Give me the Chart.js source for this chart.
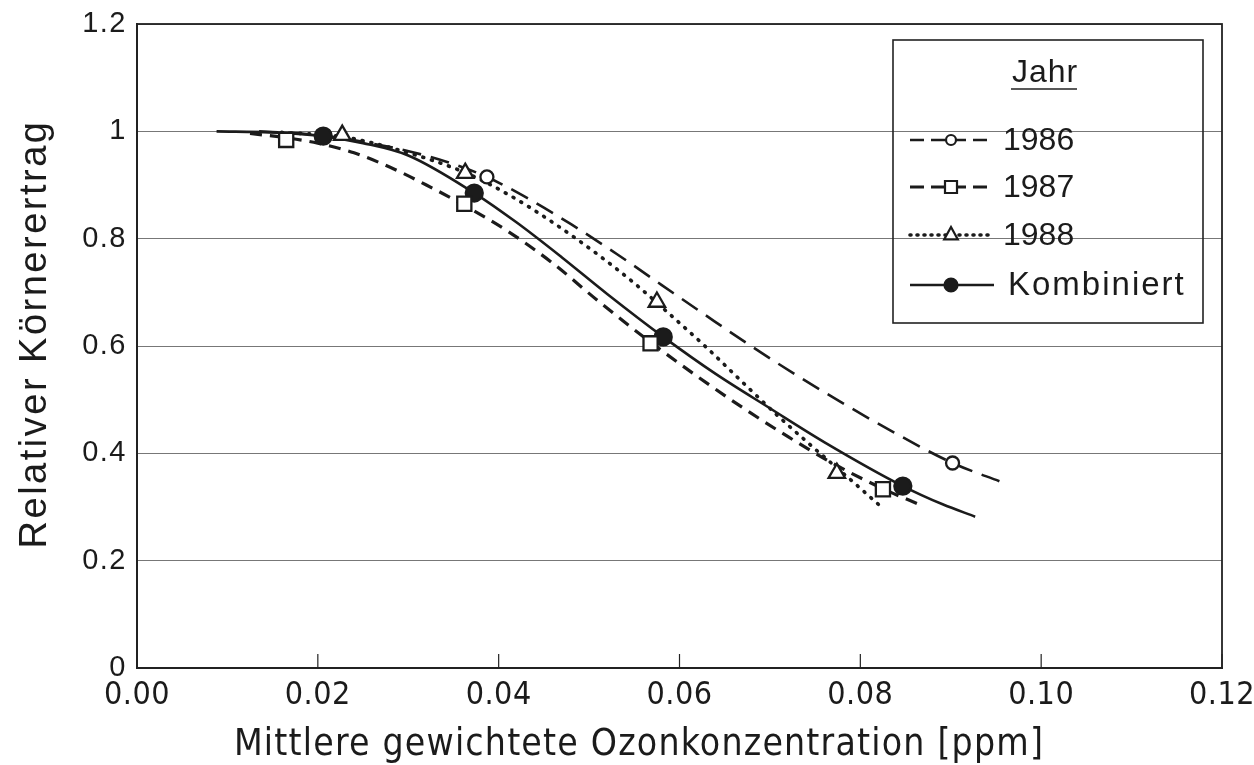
<!DOCTYPE html>
<html><head><meta charset="utf-8">
<script src="https://cdn.jsdelivr.net/npm/chart.js@4.4.1/dist/chart.umd.min.js"></script>
<style>html,body{margin:0;padding:0;background:#fff;}#wrap{width:1254px;height:765px;}</style>
</head><body><div id="wrap"><canvas id="c" width="1254" height="765"></canvas></div>
<script>
// ---- tick labels & texts ----
const xTickLabels = ['0.00','0.02','0.04','0.06','0.08','0.10','0.12'];
const yTickLabels = ['0','0.2','0.4','0.6','0.8','1','1.2'];
const xTitle = 'Mittlere gewichtete Ozonkonzentration [ppm]';
const yTitle = 'Relativer Körnerertrag';
const legendTitle = 'Jahr';
const seriesNames = ['1986','1987','1988','Kombiniert'];

// ---- fitted curves ----
const curve1986X = [0.0135,0.0200,0.0261,0.0305,0.0343,0.0387,0.0427,0.0480,0.0531,0.0580,0.0630,0.0680,0.0730,0.0780,0.0836,0.0902,0.0957];
const curve1986Y = [1.000,0.993,0.977,0.961,0.943,0.915,0.880,0.827,0.771,0.714,0.656,0.599,0.545,0.494,0.440,0.382,0.346];
const curve1987X = [0.0125,0.0165,0.0200,0.0240,0.0280,0.0320,0.0362,0.0410,0.0460,0.0510,0.0568,0.0620,0.0670,0.0720,0.0770,0.0825,0.0869];
const curve1987Y = [0.996,0.988,0.978,0.960,0.933,0.900,0.862,0.814,0.754,0.684,0.607,0.543,0.485,0.431,0.381,0.334,0.302];
const curve1988X = [0.0160,0.0227,0.0294,0.0363,0.0413,0.0460,0.0510,0.0550,0.0590,0.0630,0.0670,0.0710,0.0750,0.0785,0.0820];
const curve1988Y = [0.998,0.990,0.963,0.923,0.880,0.830,0.770,0.717,0.658,0.597,0.532,0.468,0.408,0.357,0.305];
const curveKombX = [0.0088,0.0150,0.0206,0.0250,0.0300,0.0373,0.0420,0.0470,0.0520,0.0582,0.0640,0.0700,0.0760,0.0847,0.0891,0.0927];
const curveKombY = [1.000,0.998,0.991,0.978,0.955,0.885,0.830,0.765,0.697,0.617,0.548,0.484,0.421,0.339,0.305,0.282];

// ---- observed points (markers) ----
const obs1986X = [0.0387,0.0902];
const obs1986Y = [0.915,0.382];
const obs1987X = [0.0165,0.0362,0.0568,0.0825];
const obs1987Y = [0.984,0.865,0.605,0.333];
const obs1988X = [0.0227,0.0363,0.0575,0.0774];
const obs1988Y = [0.993,0.922,0.682,0.363];
const obsKombX = [0.0206,0.0373,0.0582,0.0847];
const obsKombY = [0.991,0.885,0.617,0.339];

const pts = (xs, ys) => xs.map((x, i) => ({x: x, y: ys[i]}));
const INK = '#1b1b1b';
const SANS = '"Liberation Sans", Arial, Helvetica, sans-serif';
const NARROW = '"Liberation Sans Narrow", "DejaVu Sans Condensed", "Liberation Sans", sans-serif';

const styles = [
  {dash: [19, 10], width: 2.6, cap: 'butt', marker: 'circle', r: 6.5, lr: 5, fill: '#fff'},
  {dash: [12, 8], width: 3.2, cap: 'butt', marker: 'rect', r: 10, lr: 6, fill: '#fff'},
  {dash: [1, 8], width: 3.6, cap: 'round', marker: 'triangle', r: 9.5, lr: 8, fill: '#fff'},
  {dash: [], width: 2.6, cap: 'butt', marker: 'circle', r: 8.5, lr: 6.5, fill: INK}
];
const curves = [pts(curve1986X, curve1986Y), pts(curve1987X, curve1987Y), pts(curve1988X, curve1988Y), pts(curveKombX, curveKombY)];
const obs = [pts(obs1986X, obs1986Y), pts(obs1987X, obs1987Y), pts(obs1988X, obs1988Y), pts(obsKombX, obsKombY)];

const datasets = [];
obs.forEach((d, i) => {
  const s = styles[i];
  datasets.push({label: seriesNames[i] + ' Messwerte', data: d, showLine: false,
    pointStyle: s.marker, pointRadius: s.r, pointBorderWidth: 2.3,
    pointBorderColor: INK, pointBackgroundColor: s.fill, borderColor: INK});
});
curves.forEach((d, i) => {
  const s = styles[i];
  datasets.push({label: seriesNames[i], data: d, showLine: true, pointRadius: 0,
    borderColor: INK, borderWidth: s.width, borderDash: s.dash, borderCapStyle: s.cap,
    cubicInterpolationMode: 'monotone', fill: false});
});

function drawMarker(ctx, kind, x, y, r, fill) {
  ctx.save();
  ctx.setLineDash([]);
  ctx.lineWidth = 2.2;
  ctx.strokeStyle = INK;
  ctx.fillStyle = fill;
  ctx.beginPath();
  if (kind === 'circle') ctx.arc(x, y, r, 0, Math.PI * 2);
  else if (kind === 'rect') ctx.rect(x - r, y - r, r * 2, r * 2);
  else { ctx.moveTo(x, y - r); ctx.lineTo(x + r * 0.85, y + r * 0.55); ctx.lineTo(x - r * 0.85, y + r * 0.55); ctx.closePath(); }
  ctx.fill(); ctx.stroke();
  ctx.restore();
}

const spacingPlugin = {
  id: 'spacing',
  beforeDraw(chart) { chart.ctx.letterSpacing = '1.5px'; },     // y tick labels
  afterDatasetsDraw(chart) { chart.ctx.letterSpacing = '0.5px'; } // x tick labels (z=1)
};

const framePlugin = {
  id: 'frame',
  afterDraw(chart) {
    const ctx = chart.ctx, a = chart.chartArea, xs = chart.scales.x;
    ctx.save();
    ctx.letterSpacing = '0px';
    ctx.strokeStyle = '#222';
    ctx.lineWidth = 1.8;
    ctx.strokeRect(a.left, a.top, a.right - a.left, a.bottom - a.top);
    ctx.lineWidth = 1.2;
    xs.ticks.forEach(t => {
      const px = xs.getPixelForValue(t.value);
      ctx.beginPath(); ctx.moveTo(px, a.bottom); ctx.lineTo(px, a.bottom - 14); ctx.stroke();
    });
    // x axis title
    ctx.fillStyle = INK;
    ctx.letterSpacing = '1.2px';
    ctx.font = '37px ' + NARROW;
    ctx.textAlign = 'center';
    ctx.textBaseline = 'alphabetic';
    ctx.fillText(xTitle, 639, 755);
    // y axis title
    ctx.save();
    ctx.letterSpacing = '2.5px';
    ctx.font = '38px ' + SANS;
    ctx.translate(46, 334);
    ctx.rotate(-Math.PI / 2);
    ctx.fillText(yTitle, 0, 0);
    ctx.restore();
    // legend
    const L = 893, T = 40, R = 1203, B = 323;
    ctx.letterSpacing = '0px';
    ctx.lineWidth = 1.6;
    ctx.strokeStyle = '#222';
    ctx.strokeRect(L, T, R - L, B - T);
    ctx.letterSpacing = '1px';
    ctx.font = '32px ' + SANS;
    ctx.textAlign = 'center';
    ctx.textBaseline = 'middle';
    ctx.fillText(legendTitle, 1045, 73);
    ctx.lineWidth = 1.5;
    ctx.beginPath(); ctx.moveTo(1011, 89); ctx.lineTo(1077, 89); ctx.stroke();
    const rowsY = [140, 187, 235, 285];
    ctx.textAlign = 'left';
    seriesNames.forEach((n, i) => {
      const s = styles[i], y = rowsY[i];
      ctx.save();
      ctx.strokeStyle = INK;
      ctx.lineWidth = s.width;
      ctx.setLineDash(s.dash.length ? (i === 2 ? [1, 6] : [14, 7]) : []);
      ctx.lineCap = s.cap;
      ctx.beginPath(); ctx.moveTo(910, y); ctx.lineTo(994, y); ctx.stroke();
      ctx.restore();
      drawMarker(ctx, s.marker, 951, y, s.lr, s.fill);
      ctx.fillStyle = INK;
      ctx.font = (i === 3 ? '33px ' : '32px ') + SANS;
      ctx.letterSpacing = i === 3 ? '2px' : '0px';
      ctx.fillText(n, i === 3 ? 1008 : 1003, y + 1);
    });
    ctx.restore();
  }
};

new Chart(document.getElementById('c'), {
  type: 'line',
  data: {datasets: datasets},
  options: {
    responsive: false, animation: false, devicePixelRatio: 1,
    layout: {padding: {left: 0, top: 24, right: 32, bottom: 0}},
    plugins: {legend: {display: false}, tooltip: {enabled: false}},
    scales: {
      x: {type: 'linear', min: 0, max: 0.12,
        afterBuildTicks: s => { s.ticks = xTickLabels.map(v => ({value: parseFloat(v)})); },
        afterFit: s => { s.height = 97; s.paddingLeft = 0; s.paddingRight = 0; },
        ticks: {callback: (v, i) => xTickLabels[i], color: INK, font: {family: NARROW, size: 32}, padding: 8, maxRotation: 0, z: 1},
        grid: {drawOnChartArea: false, drawTicks: false},
        border: {display: true, color: '#222', width: 2}
      },
      y: {type: 'linear', min: 0, max: 1.2,
        afterBuildTicks: s => { s.ticks = yTickLabels.map(v => ({value: parseFloat(v)})); },
        afterFit: s => { s.width = 137; s.paddingTop = 0; s.paddingBottom = 0; },
        ticks: {callback: (v, i) => yTickLabels[i], color: INK, font: {family: SANS, size: 29}, padding: 10},
        grid: {color: '#777', lineWidth: 1, drawTicks: false},
        border: {display: true, color: '#222', width: 2},
        title: {display: false}
      }
    }
  },
  plugins: [spacingPlugin, framePlugin]
});
</script></body></html>
